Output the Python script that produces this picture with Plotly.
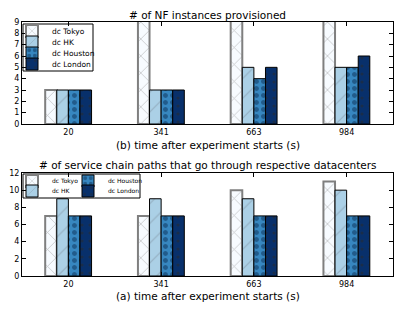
import plotly.graph_objects as go

# ---------------- data ----------------
times = ["20", "341", "663", "984"]
centers = ["dc Tokyo", "dc HK", "dc Houston", "dc London"]

nf_tokyo = [3, 10, 10, 10]
nf_hk = [3, 3, 5, 5]
nf_houston = [3, 3, 4, 5]
nf_london = [3, 3, 5, 6]

path_tokyo = [7, 7, 10, 11]
path_hk = [9, 9, 9, 10]
path_houston = [7, 7, 7, 7]
path_london = [7, 7, 7, 7]

top_title = "# of NF instances provisioned"
bot_title = "# of service chain paths that go through respective datacenters"
top_xlabel = "(b) time after experiment starts (s)"
bot_xlabel = "(a) time after experiment starts (s)"

# ---------------- styles ----------------
FONT = "DejaVu Sans"
colors = ["#f7fbff", "#abd0e6", "#3787c0", "#08306b"]
hatch = ["x", "/", ".", "."]
fgcol = ["#8a8a8a", "#7a8a99", "#0b2f55", "#2a2a2a"]
psize = [12, 14, 7, 8]
psolid = [0.12, 0.08, 0.4, 0.12]
edge = ["#7f7f7f", "black", "black", "black"]
edgew = [2, 1, 1, 1]

W, H = 415, 312
ML, MR, MT, MB = 22, 22, 22, 36
PW, PH = W - ML - MR, H - MT - MB


def px_x(x):
    return (x - ML) / PW


def px_y(y):
    return (H - MB - y) / PH


top_vals = [nf_tokyo, nf_hk, nf_houston, nf_london]
bot_vals = [path_tokyo, path_hk, path_houston, path_london]

fig = go.Figure()

top_leg_y = [31, 42, 53, 64]
bot_leg = [(12, 181), (12, 191), (68, 181), (68, 191)]

for i in range(4):
    fig.add_trace(go.Bar(
        x=times, y=top_vals[i], name=centers[i], xaxis="x", yaxis="y",
        legend=f"legend{i+1}" if i > 0 else "legend", showlegend=True,
        marker=dict(color=colors[i], line=dict(color=edge[i], width=edgew[i]),
                    pattern=dict(shape=hatch[i], fgcolor=fgcol[i], bgcolor=colors[i],
                                 size=psize[i], solidity=psolid[i])),
    ))
for i in range(4):
    fig.add_trace(go.Bar(
        x=times, y=bot_vals[i], name=centers[i], xaxis="x2", yaxis="y2",
        legend=f"legend{i+5}", showlegend=True,
        marker=dict(color=colors[i], line=dict(color=edge[i], width=edgew[i]),
                    pattern=dict(shape=hatch[i], fgcolor=fgcol[i], bgcolor=colors[i],
                                 size=psize[i], solidity=psolid[i])),
    ))

legends = {}
for i in range(4):
    key = "legend" if i == 0 else f"legend{i+1}"
    legends[key] = dict(x=px_x(12), y=px_y(top_leg_y[i]), xanchor="left", yanchor="middle",
                        bgcolor="rgba(0,0,0,0)", borderwidth=0, visible=True,
                        font=dict(family=FONT, size=7.5, color="black"))
for i in range(4):
    key = f"legend{i+5}"
    lx, ly = bot_leg[i]
    legends[key] = dict(x=px_x(lx), y=px_y(ly), xanchor="left", yanchor="middle",
                        bgcolor="rgba(0,0,0,0)", borderwidth=0, visible=True,
                        font=dict(family=FONT, size=6, color="black"))

top_dom = [px_y(124), px_y(22)]
bot_dom = [px_y(276), px_y(173)]

axis_common = dict(showline=True, linecolor="black", linewidth=1, mirror="ticks",
                   ticks="inside", ticklen=4, tickcolor="black", showgrid=False,
                   zeroline=False, automargin=False,
                   tickfont=dict(family=FONT, size=8, color="black"))

fig.update_layout(
    width=W, height=H,
    margin=dict(l=ML, r=MR, t=MT, b=MB, autoexpand=False),
    paper_bgcolor="white", plot_bgcolor="white",
    showlegend=True,
    barmode="group", bargap=0.5, bargroupgap=0,
    font=dict(family=FONT, color="black"),
    xaxis=dict(domain=[0, 1], anchor="y", **axis_common),
    yaxis=dict(domain=top_dom, anchor="x", range=[0, 9], dtick=1, **axis_common),
    xaxis2=dict(domain=[0, 1], anchor="y2", **axis_common),
    yaxis2=dict(domain=bot_dom, anchor="x2", range=[0, 12], dtick=2, **axis_common),
    **legends,
)

# legend frames
fig.add_shape(type="rect", xref="paper", yref="paper",
              x0=px_x(23), x1=px_x(93), y0=px_y(24), y1=px_y(71),
              line=dict(color="black", width=1), fillcolor="rgba(0,0,0,0)")
fig.add_shape(type="rect", xref="paper", yref="paper",
              x0=px_x(23), x1=px_x(140), y0=px_y(174), y1=px_y(198),
              line=dict(color="black", width=1), fillcolor="rgba(0,0,0,0)")

ann = dict(xref="paper", yref="paper", showarrow=False,
           font=dict(family=FONT, size=10.5, color="black"), xanchor="center", yanchor="middle")
fig.add_annotation(text=top_title, x=0.5, y=px_y(15), **ann)
fig.add_annotation(text=bot_title, x=0.5, y=px_y(165), **ann)
fig.add_annotation(text=top_xlabel, x=0.5, y=px_y(145), **ann)
fig.add_annotation(text=bot_xlabel, x=0.5, y=px_y(296), **ann)

fig.write_html("out.html", config={"displayModeBar": False},
               post_script="document.body.style.margin='0px';document.body.style.padding='0px';")
